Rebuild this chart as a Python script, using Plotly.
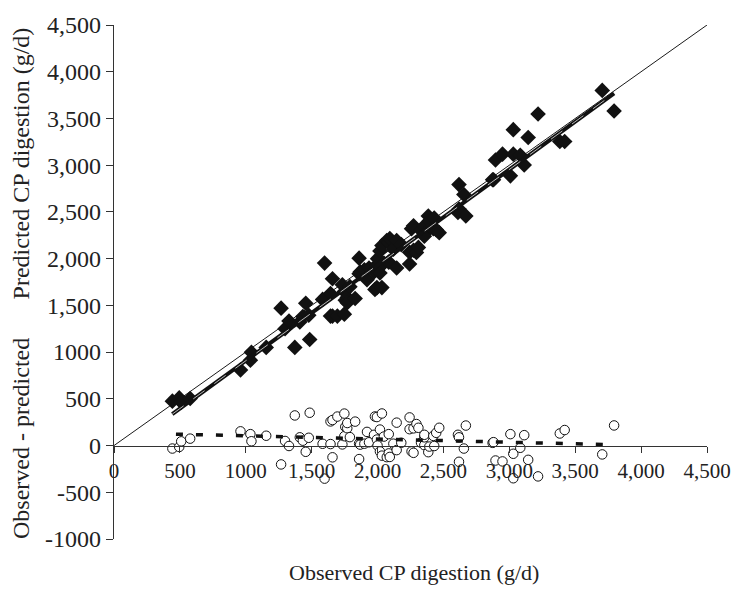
import numpy as np
import plotly.graph_objects as go

# Observed vs predicted CP digestion (g/d)
observed = [443, 495, 510, 578, 960, 1035, 1043, 1155, 1268, 1298, 1328, 1372, 1410, 1433,
            1455, 1478, 1485, 1583, 1598, 1643, 1643, 1658, 1658, 1695, 1733, 1748, 1748,
            1755, 1770, 1770, 1790, 1830, 1860, 1860, 1868, 1900, 1920, 1935, 1973, 1980,
            1995, 1995, 2000, 2018, 2018, 2033, 2033, 2048, 2070, 2085, 2085, 2093, 2120,
            2145, 2145, 2180, 2243, 2243, 2258, 2273, 2273, 2295, 2310, 2330, 2355, 2355,
            2355, 2385, 2393, 2423, 2430, 2445, 2468, 2610, 2618, 2618, 2655, 2670, 2873,
            2880, 2895, 2948, 3008, 3030, 3030, 3083, 3113, 3143, 3218, 3383, 3420, 3705,
            3795]
predicted = [475, 510, 465, 504, 808, 913, 997, 1050, 1470, 1249, 1333, 1050, 1322, 1381,
             1522, 1395, 1134, 1564, 1952, 1627, 1385, 1784, 1385, 1385, 1721, 1648, 1406,
             1555, 1585, 1529, 1700, 1574, 2005, 1839, 1858, 1880, 1774, 1900, 1858, 1669,
             1931, 1690, 2000, 1847, 2081, 1690, 2141, 1952, 2194, 1963, 2169, 2215, 2100,
             1900, 2194, 2150, 1942, 2068, 2321, 2089, 2351, 2065, 2120, 2300, 2351, 2267,
             2240, 2456, 2404, 2320, 2435, 2309, 2278, 2495, 2792, 2530, 2687, 2456, 2844,
             2844, 3055, 3118, 2886, 3380, 3118, 3107, 3002, 3296, 3548, 3254, 3254, 3800,
             3580]

# Fitted lines (start/end of observed range)
fit_x = [442, 3795]
fit_pred = [336, 3768]        # regression of predicted on observed
resid_fit_x = [470, 3800]
resid_fit = [122, 8]          # regression of residual on observed

x_ticks = [0, 500, 1000, 1500, 2000, 2500, 3000, 3500, 4000, 4500]
x_tick_text = ["0", "500", "1000", "1,500", "2,000", "2,500", "3,000", "3,500", "4,000", "4,500"]
y_ticks = [-1000, -500, 0, 500, 1000, 1500, 2000, 2500, 3000, 3500, 4000, 4500]
y_tick_text = ["-1000", "-500", "0", "500", "1000", "1,500", "2,000", "2,500", "3,000",
               "3,500", "4,000", "4,500"]
x_range = [0, 4500]
y_range = [-1000, 4500]
identity = [0, 4500]

obs = np.array(observed, dtype=float)
pred = np.array(predicted, dtype=float)
resid = obs - pred

FONT = "Liberation Serif"
fig = go.Figure()

fig.add_trace(go.Scatter(x=identity, y=identity, mode="lines",
                         line=dict(color="#1a1a1a", width=1), hoverinfo="skip"))
fig.add_trace(go.Scatter(x=obs, y=pred, mode="markers",
                         marker=dict(symbol="diamond", size=12, color="#111111",
                                     line=dict(width=0))))
fig.add_trace(go.Scatter(x=fit_x, y=fit_pred, mode="lines",
                         line=dict(color="#111111", width=4)))
fig.add_trace(go.Scatter(x=fit_x, y=fit_pred, mode="lines",
                         line=dict(color="white", width=0.7, dash="14px,12px")))
fig.add_trace(go.Scatter(x=obs, y=resid, mode="markers",
                         marker=dict(symbol="circle", size=9.5, color="white",
                                     line=dict(color="#111111", width=1))))
fig.add_trace(go.Scatter(x=resid_fit_x, y=resid_fit, mode="lines",
                         line=dict(color="#111111", width=3.5, dash="7px,13px")))

pos0 = (0 - y_range[0]) / (y_range[1] - y_range[0])

fig.update_layout(
    width=743, height=591,
    margin=dict(l=114, r=29, t=15, b=52),
    paper_bgcolor="white", plot_bgcolor="white",
    showlegend=False,
    font=dict(family=FONT, color="#222222"),
    xaxis=dict(range=x_range, tickvals=x_ticks, ticktext=x_tick_text,
               showgrid=False, zeroline=False, showline=True, linecolor="#333333",
               linewidth=1.3, ticks="outside", ticklen=6, tickcolor="#333333",
               anchor="free", position=pos0, tickfont=dict(size=21, family=FONT)),
    yaxis=dict(range=y_range, tickvals=y_ticks, ticktext=y_tick_text,
               showgrid=False, zeroline=False, showline=True, linecolor="#333333",
               linewidth=1.3, ticks="outside", ticklen=7, tickcolor="#333333",
               tickfont=dict(size=24, family=FONT)),
    annotations=[
        dict(text="Observed CP digestion (g/d)", xref="paper", yref="paper",
             x=(418 - 114) / 600, y=-(573 - 539) / 524, xanchor="center", yanchor="middle",
             showarrow=False, font=dict(size=22, family=FONT)),
        dict(text="Predicted CP digestion (g/d)", xref="paper", yref="paper",
             x=-(114 - 20) / 600, y=(539 - 156) / 524, xanchor="center", yanchor="middle",
             textangle=-90, showarrow=False, font=dict(size=24, family=FONT)),
        dict(text="Observed - predicted", xref="paper", yref="paper",
             x=-(114 - 20) / 600, y=(539 - 437) / 524, xanchor="center", yanchor="middle",
             textangle=-90, showarrow=False, font=dict(size=24, family=FONT)),
    ],
)

fig.write_html("out.html")
